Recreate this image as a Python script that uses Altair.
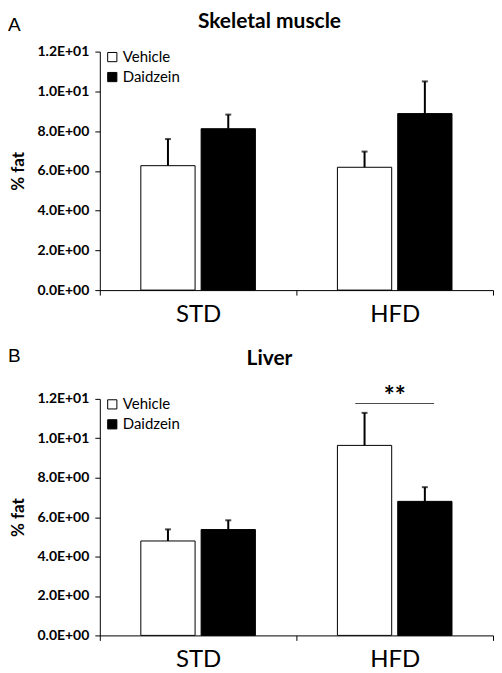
import altair as alt
import pandas as pd

# ---- data ----
groups = ["STD", "HFD"]
treatments = ["Vehicle", "Daidzein"]
bar_group = ["STD", "STD", "HFD", "HFD"]
bar_treat = ["Vehicle", "Daidzein", "Vehicle", "Daidzein"]

muscle_mean = [6.26, 8.12, 6.18, 8.88]
muscle_err = [1.34, 0.71, 0.79, 1.62]

liver_mean = [4.79, 5.37, 9.64, 6.80]
liver_err = [0.59, 0.47, 1.65, 0.72]

panel_titles = ["Skeletal muscle", "Liver"]
panel_letters = ["A", "B"]

sig_group = ["HFD"]
sig_y = [11.76]
sig_text = ["**"]

y_ticks = [0, 2, 4, 6, 8, 10, 12]

FONT = "Lato"

Y_AXIS = alt.Axis(title="% fat", values=y_ticks, grid=False, labelOverlap=False,
                  labelExpr="datum.value < 10 ? format(datum.value, '.1f') + 'E+00' : format(datum.value / 10, '.1f') + 'E+01'",
                  labelFont=FONT, labelFontSize=14, labelFontWeight="bold",
                  labelColor="black", labelPadding=6, tickSize=5,
                  tickColor="black", domainColor="black",
                  titleFont=FONT, titleFontSize=17, titleFontWeight="bold",
                  titleColor="black", titlePadding=9)
Y_SCALE = alt.Scale(domain=[0, 12], nice=False)


def make_df(mean, err):
    return pd.DataFrame({
        "group": bar_group,
        "treatment": bar_treat,
        "mean": mean,
        "upper": [m + e for m, e in zip(mean, err)],
    })


def panel(df, title, letter, height, title_y, letter_y, annotate=False):
    xenc = alt.X("group:N", sort=groups,
                 scale=alt.Scale(domain=groups, paddingInner=0, paddingOuter=0),
                 axis=alt.Axis(title=None, labelAngle=0, labelFont=FONT, labelFontSize=24,
                               labelColor="black", labelPadding=7, tickSize=5,
                               tickColor="black", domainColor="black", tickBand="extent"))
    xoff = alt.XOffset("treatment:N", sort=treatments,
                       scale=alt.Scale(domain=treatments, paddingInner=0.1, paddingOuter=0.68))

    base = alt.Chart(df)
    bars = base.mark_bar(stroke="black", strokeWidth=1).encode(
        x=xenc, xOffset=xoff, y=alt.Y("mean:Q", scale=Y_SCALE, axis=Y_AXIS),
        fill=alt.Fill("treatment:N", sort=treatments,
                      scale=alt.Scale(domain=treatments, range=["white", "black"]),
                      legend=alt.Legend(title=None, orient="none", legendX=5, legendY=-2,
                                        symbolType="square", symbolSize=85,
                                        symbolStrokeColor="black", symbolStrokeWidth=1,
                                        labelFont=FONT, labelFontSize=15, labelColor="black",
                                        labelOffset=3, rowPadding=4)),
    )
    err = base.mark_rule(color="black", strokeWidth=2).encode(
        x=alt.X("group:N", sort=groups), xOffset=alt.XOffset("treatment:N", sort=treatments),
        y=alt.Y("mean:Q", scale=Y_SCALE, axis=Y_AXIS), y2="upper:Q")
    cap = base.mark_tick(color="black", orient="horizontal", size=6, thickness=2).encode(
        x=alt.X("group:N", sort=groups), xOffset=alt.XOffset("treatment:N", sort=treatments),
        y=alt.Y("upper:Q", scale=Y_SCALE, axis=Y_AXIS))

    tdf = pd.DataFrame({"t": [title], "l": [letter]})
    ttl = alt.Chart(tdf).mark_text(font=FONT, fontSize=21, fontWeight="bold", color="black",
                                   align="center", baseline="alphabetic").encode(
        text="t:N", x=alt.value(170), y=alt.value(title_y))
    let = alt.Chart(tdf).mark_text(font="Liberation Sans", fontSize=19, color="black",
                                   align="left", baseline="alphabetic").encode(
        text="l:N", x=alt.value(-92), y=alt.value(letter_y))

    layers = [bars, err, cap, ttl, let]
    if annotate:
        sdf = pd.DataFrame({"group": sig_group, "y": sig_y, "t": sig_text})
        line = alt.Chart(sdf).mark_tick(color="black", orient="horizontal", size=79,
                                        thickness=1).encode(
            x=alt.X("group:N", sort=groups), y=alt.Y("y:Q", scale=Y_SCALE, axis=Y_AXIS))
        stars = alt.Chart(sdf).mark_text(font=FONT, fontSize=26, fontWeight="bold",
                                         color="black", baseline="alphabetic", dy=1).encode(
            x=alt.X("group:N", sort=groups), y=alt.Y("y:Q", scale=Y_SCALE, axis=Y_AXIS),
            text="t:N")
        layers += [line, stars]
    return alt.layer(*layers).properties(width=394, height=height)


top = panel(make_df(muscle_mean, muscle_err), panel_titles[0], panel_letters[0],
            239, -24, -21)
bottom = panel(make_df(liver_mean, liver_err), panel_titles[1], panel_letters[1],
               237, -34, -37, annotate=True)

chart = alt.vconcat(top, bottom, spacing=21).resolve_scale(
    fill="independent"
).properties(
    padding={"left": 0, "right": 0, "top": 2, "bottom": 0},
    background="white",
).configure_view(stroke=None)

chart.save("out.html", embed_options={"renderer": "svg", "actions": False})
